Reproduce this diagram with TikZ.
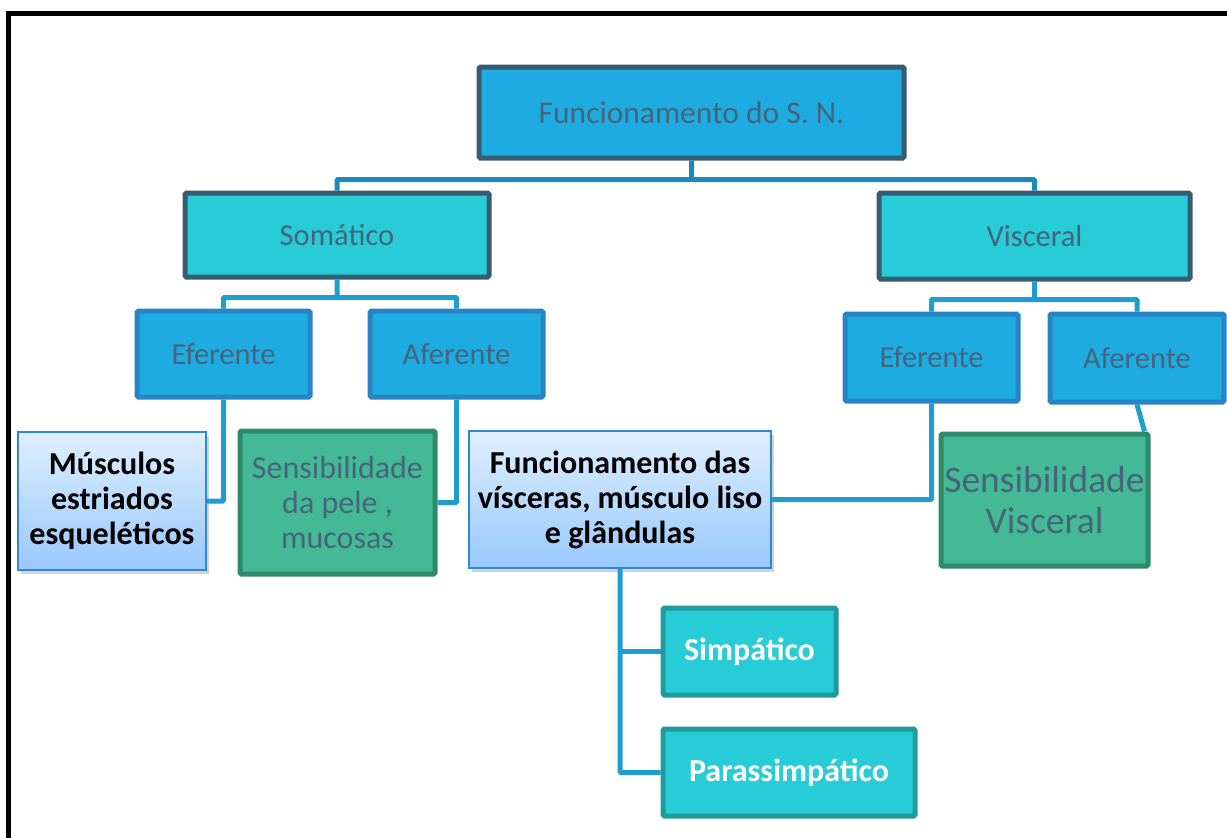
\documentclass[tikz,border=0pt]{standalone}
\usepackage{fontspec}
\setmainfont{Carlito}
\usetikzlibrary{shadows,calc}
\definecolor{topfill}{HTML}{1EABE2}
\definecolor{darkedge}{HTML}{365C74}
\definecolor{cyanfill}{HTML}{27CCD7}
\definecolor{blueedge}{HTML}{2785C6}
\definecolor{greenfill}{HTML}{43B995}
\definecolor{greenedge}{HTML}{2E8A6A}
\definecolor{tealedge}{HTML}{219A9E}
\definecolor{lightedge}{HTML}{3088D2}
\definecolor{gradtop}{HTML}{DFEFFF}
\definecolor{gradbot}{HTML}{98C8FB}
\definecolor{conncol}{HTML}{1F9DD0}
\definecolor{conndark}{HTML}{1C8AB9}
\definecolor{outtext}{HTML}{46647C}
\tikzset{
  box/.style={rectangle, rounded corners=1.5pt, inner sep=0pt, align=center},
  level0/.style={box, fill=topfill, draw=darkedge, line width=5pt, text=outtext, font=\fontsize{31.5}{36}\selectfont},
  level1/.style={box, fill=cyanfill, draw=darkedge, line width=5pt, text=outtext, font=\fontsize{30.5}{36}\selectfont},
  level2/.style={box, fill=topfill, draw=blueedge, line width=5pt, text=outtext, font=\fontsize{30.5}{36}\selectfont},
  leafblue/.style={box, rounded corners=0pt, top color=gradtop, bottom color=gradbot, draw=lightedge, line width=2pt,
     drop shadow={opacity=0.35, shadow xshift=3pt, shadow yshift=-4pt},
     text=black, font=\bfseries\fontsize{32}{35}\selectfont},
  leafgreen/.style={box, fill=greenfill, draw=greenedge, line width=5pt, text=outtext},
  leafteal/.style={box, fill=cyanfill, draw=tealedge, line width=5pt, text=white, font=\bfseries\fontsize{32}{35}\selectfont},
  conn/.style={draw=conncol, line width=5pt, rounded corners=1pt},
  conntop/.style={draw=conndark, line width=5pt, rounded corners=1pt}
}
\begin{document}
\begin{tikzpicture}[x=1pt,y=-1pt]
\useasboundingbox (0,0) rectangle (1227,838);
\begin{scope}
\clip (0,0) rectangle (1227,838);
\draw[line width=5pt, black] (8,13) rectangle (1250,870);
\end{scope}

\node[level0, minimum width=425pt, minimum height=91pt] (top) at (691.5,112.5) {Funcionamento do S. N.};
\node[level1, minimum width=304pt, minimum height=84pt] (som) at (337,235) {Somático};
\node[level1, minimum width=311pt, minimum height=86pt] (vis) at (1034.5,236) {Visceral};
\node[level2, minimum width=173pt, minimum height=86pt] (efL) at (223.5,354) {Eferente};
\node[level2, minimum width=173pt, minimum height=86pt] (afL) at (456.5,354) {Aferente};
\node[level2, minimum width=173pt, minimum height=87pt] (efR) at (931.5,357.5) {Eferente};
\node[level2, minimum width=174pt, minimum height=88pt] (afR) at (1137,358) {Aferente};

\node[leafblue, minimum width=188pt, minimum height=138pt] (mus) at (112,501) {Músculos\\estriados\\esqueléticos};
\node[leafgreen, minimum width=195pt, minimum height=143pt, font=\fontsize{32}{35}\selectfont] (sdp) at (337.5,502.5) {Sensibilidade\\da pele ,\\mucosas};
\node[leafblue, minimum width=302pt, minimum height=137pt] (fdv) at (620,499.5) {Funcionamento das\\vísceras, músculo liso\\e glândulas};
\node[leafgreen, minimum width=207pt, minimum height=132pt, font=\fontsize{37.5}{41}\selectfont] (sv) at (1044.5,500) {Sensibilidade\\Visceral};
\node[leafteal, minimum width=173pt, minimum height=87pt] (sim) at (749.5,651.5) {Simpático};
\node[leafteal, minimum width=252pt, minimum height=87pt] (par) at (789,772.5) {Parassimpático};

% connectors
\coordinate (j0) at ($(top.south)+(0,19)$);
\draw[conntop] (top.south) -- (j0) -| (som.north);
\draw[conntop] (j0) -| (vis.north);
\coordinate (j1) at ($(som.south)+(0,18)$);
\draw[conn] (som.south) -- (j1) -| (efL.north);
\draw[conn] (j1) -| (afL.north);
\coordinate (j2) at ($(vis.south)+(0,18)$);
\draw[conn] (vis.south) -- (j2) -| (efR.north);
\draw[conn] (j2) -| (afR.north);
\draw[conn] (efL.south) |- (mus.east);
\draw[conn] (afL.south) |- (sdp.east);
\draw[conn] (efR.south) |- (fdv.east);
\coordinate (svtop) at ($(sv.north east)+(-6,0)$);
\draw[conn] (afR.south) -- (svtop);
\draw[conn] (fdv.south) |- (par.west);
\draw[conn] (fdv.south |- sim.west) -- (sim.west);
\end{tikzpicture}
\end{document}
